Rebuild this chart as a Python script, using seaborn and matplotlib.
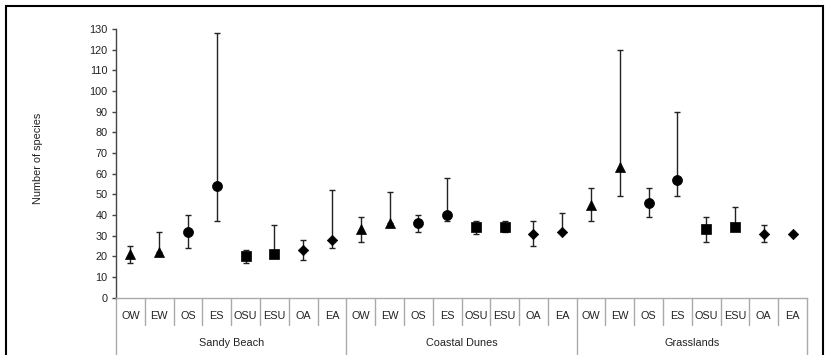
import numpy as np
import pandas as pd
import matplotlib
matplotlib.use("Agg")
import matplotlib.pyplot as plt
import matplotlib.transforms as mtransforms
from matplotlib.patches import Rectangle
import seaborn as sns

# Habitat groups and sampling treatments
habitats = ["Sandy Beach", "Coastal Dunes", "Grasslands"]
treatments = ["OW", "EW", "OS", "ES", "OSU", "ESU", "OA", "EA"]
season_of = {"OW": "W", "EW": "W", "OS": "S", "ES": "S",
             "OSU": "SU", "ESU": "SU", "OA": "A", "EA": "A"}

# Mean number of species with lower / upper limits
sandy_mean = [21, 22, 32, 54, 20, 21, 23, 28]
sandy_low = [17, 22, 24, 37, 17, 21, 18, 24]
sandy_high = [25, 32, 40, 128, 23, 35, 28, 52]

dunes_mean = [33, 36, 36, 40, 34, 34, 31, 32]
dunes_low = [27, 36, 32, 37, 31, 32, 25, 32]
dunes_high = [39, 51, 40, 58, 37, 37, 37, 41]

grass_mean = [45, 63, 46, 57, 33, 34, 31, 31]
grass_low = [37, 49, 39, 49, 27, 34, 27, 31]
grass_high = [53, 120, 53, 90, 39, 44, 35, 31]

y_ticks = list(range(0, 131, 10))

rows = []
for hab, m, lo, hi in zip(habitats,
                          [sandy_mean, dunes_mean, grass_mean],
                          [sandy_low, dunes_low, grass_low],
                          [sandy_high, dunes_high, grass_high]):
    for t, mv, lv, hv in zip(treatments, m, lo, hi):
        rows.append({"habitat": hab, "treatment": t, "season": season_of[t],
                     "mean": mv, "low": lv, "high": hv})
df = pd.DataFrame(rows)
df["pos"] = np.arange(len(df))

sns.set_style("white")
plt.rcParams["font.family"] = ["Liberation Sans", "DejaVu Sans"]

FS = 7.8
TXT = "#222222"

fig = plt.figure(figsize=(8.26, 3.55), dpi=100)
ax = fig.add_axes([116 / 826, (355 - 297.7) / 355, 691 / 826, 268.7 / 355])

# Error bars first, markers on top
ax.errorbar(df["pos"], df["mean"],
            yerr=[df["mean"] - df["low"], df["high"] - df["mean"]],
            fmt="none", ecolor="#222222", elinewidth=1.0, capsize=2.2,
            capthick=1.0, zorder=2)

marker_map = {"W": "^", "S": "o", "SU": "s", "A": "D"}
size_map = {"W": 52, "S": 52, "SU": 50, "A": 28}
for season, sub in df.groupby("season"):
    sns.scatterplot(data=sub, x="pos", y="mean", marker=marker_map[season],
                    s=size_map[season], color="black", edgecolor="black",
                    linewidth=0.5, ax=ax, zorder=3, legend=False)

ax.set_xlim(-0.5, len(df) - 0.5)
ax.set_ylim(0, 130)
ax.set_yticks(y_ticks)
ax.set_yticklabels([str(v) for v in y_ticks], fontsize=FS, color=TXT)
ax.set_xticks([])
ax.set_xlabel("")
ax.set_ylabel("Number of species", fontsize=FS, color=TXT)
ax.yaxis.set_label_coords(-0.105, 0.52)

for side in ["top", "right"]:
    ax.spines[side].set_visible(False)
ax.spines["left"].set_color("#444444")
ax.spines["left"].set_linewidth(1.0)
ax.spines["bottom"].set_color("#aaaaaa")
ax.spines["bottom"].set_linewidth(1.0)
ax.tick_params(axis="y", which="both", left=True, direction="out",
               length=3, width=1.0, color="#444444", pad=3)

# Two-level category axis drawn below the plotting area
trans = mtransforms.blended_transform_factory(ax.transData, ax.transAxes)
n = len(df)
for i in range(n + 1):
    x = i - 0.5
    bottom = -0.4 if i % len(treatments) == 0 else -0.102
    ax.plot([x, x], [0, bottom], color="#aaaaaa", lw=1.0, transform=trans,
            clip_on=False, zorder=1)
for _, r in df.iterrows():
    ax.text(r["pos"], -0.067, r["treatment"], transform=trans, ha="center",
            va="center", fontsize=FS, color=TXT)
for k, hab in enumerate(habitats):
    center = k * len(treatments) + (len(treatments) - 1) / 2
    ax.text(center, -0.169, hab, transform=trans, ha="center", va="center",
            fontsize=FS, color=TXT)

# Outer frame around the chart
fig.patches.append(Rectangle((6 / 826, -0.1), 817 / 826, (355 - 6) / 355 + 0.1,
                             transform=fig.transFigure, fill=False,
                             edgecolor="black", lw=1.5, zorder=0))

fig.savefig("out.png", dpi=100)
